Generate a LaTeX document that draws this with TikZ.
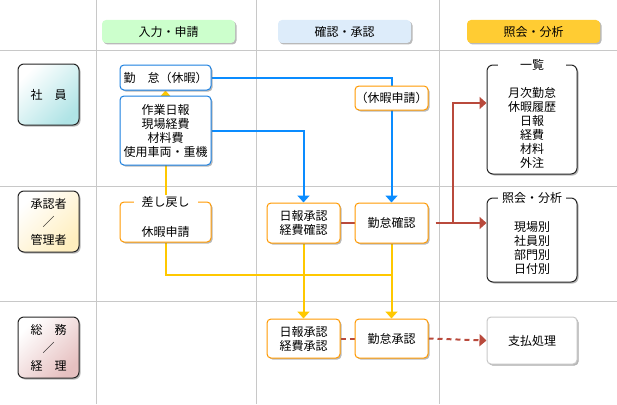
\documentclass[tikz,border=0pt]{standalone}
\usepackage{fontspec}
\setmainfont{Noto Sans CJK JP}
\usetikzlibrary{arrows.meta}
\usetikzlibrary{shadows}
\usetikzlibrary{backgrounds}

\definecolor{gridgray}{RGB}{200,200,200}
\definecolor{hdrgreen}{RGB}{204,255,204}
\definecolor{hdrblue}{RGB}{221,236,250}
\definecolor{hdrgold}{RGB}{255,204,51}
\definecolor{staffcyan}{RGB}{176,228,230}
\definecolor{mgryellow}{RGB}{255,238,190}
\definecolor{acctpink}{RGB}{230,192,192}
\definecolor{inblue}{RGB}{26,127,224}
\definecolor{okorange}{RGB}{255,153,0}
\definecolor{flowblue}{RGB}{10,140,255}
\definecolor{flowyellow}{RGB}{255,200,0}
\definecolor{flowred}{RGB}{185,74,60}

\tikzset{
  txt/.style={font=\fontsize{12}{14}\selectfont},
  box/.style={txt, draw, line width=1pt, rounded corners=4pt, fill=white, align=center, inner sep=0pt,
    drop shadow={shadow xshift=1.5pt, shadow yshift=-1.5pt, fill=black!55}},
  hdr/.style={box, draw=none, minimum width=133pt, minimum height=23pt},
  role/.style={box, draw=black!85, rounded corners=6pt, minimum width=61pt, minimum height=61pt,
    font=\fontsize{12}{18}\selectfont, top color=white, bottom color=#1, shading angle=45},
  inbox/.style={box, draw=inblue, minimum width=91pt},
  okbox/.style={box, draw=okorange, minimum width=73pt, minimum height=40pt},
  viewbox/.style={box, draw=black!85, rounded corners=6pt, minimum width=90pt},
  boxtitle/.style={txt, fill=white, inner sep=1pt, minimum width=68pt},
  boxtext/.style={txt, align=center, inner sep=0pt},
  tip/.style={-{Triangle[width=12pt,length=7pt]}},
  bline/.style={draw=flowblue, line width=2pt},
  yline/.style={draw=flowyellow, line width=2pt},
  rline/.style={draw=flowred, line width=2pt}
}

\begin{document}
\begin{tikzpicture}[x=1pt, y=-1pt]
  \useasboundingbox (0,0) rectangle (617,404);

  \node [hdr, fill=hdrgreen] (hIn) at (168.5, 31.5) {入力・申請};
  \node [hdr, fill=hdrblue] (hChk) at (344.5, 31.5) {確認・承認};
  \node [hdr, fill=hdrgold] (hView) at (533.5, 31.5) {照会・分析};

  \node [role=staffcyan] (staff) at (48.5, 94.5) {社　員};
  \node [role=mgryellow] (mgr) at (48.5, 221.5) {承認者\\／\\管理者};
  \node [role=acctpink] (acct) at (48.5, 347.5) {総　務\\／\\経　理};

  \node [inbox, minimum height=25pt] (kintai) at (165.5, 77.5) {勤　怠（休暇）};
  \node [inbox, minimum height=69pt] (nippo) at (165.5, 130.5) {作業日報\\現場経費\\材料費\\使用車両・重機};
  \node [okbox, minimum width=91pt] (sashi) at (165.5, 222) {};
  \node [boxtitle, minimum width=64pt] (sashiT) at (sashi.north) {差し戻し};
  \node [boxtext] (sashiTxt) at (165.5, 232) {休暇申請};

  \node [okbox, minimum height=24pt] (kyuka) at (391.5, 98) {（休暇申請）};
  \node [okbox] (nippoChk) at (303.5, 223) {日報承認\\経費確認};
  \node [okbox] (kintaiChk) at (391.5, 223) {勤怠確認};
  \node [okbox, minimum height=39pt] (nippoApp) at (303.5, 338.5) {日報承認\\経費承認};
  \node [okbox, minimum height=39pt] (kintaiApp) at (391.5, 338.5) {勤怠承認};

  \node [viewbox, minimum height=109pt] (list) at (532, 119.5) {};
  \node [boxtitle] (listT) at (list.north) {一覧};
  \node [boxtext] (listTxt) at (532, 128) {月次勤怠\\休暇履歴\\日報\\経費\\材料\\外注};
  \node [viewbox, minimum height=84pt] (query) at (532, 240) {};
  \node [boxtitle] (queryT) at (query.north) {照会・分析};
  \node [boxtext] (queryTxt) at (532, 248) {現場別\\社員別\\部門別\\日付別};
  \node [box, draw=gridgray, minimum width=90pt, minimum height=47pt,
    drop shadow={shadow xshift=1.5pt, shadow yshift=-1.5pt, fill=black!30}] (pay) at (532, 340.5) {支払処理};

  \coordinate (ret) at (391.5, 275);
  \coordinate (fork) at (453, 0);

  \begin{pgfonlayer}{background}
    \foreach \x in {96, 256, 439}
      \draw [gridgray] (\x, 0) -- (\x, 404);
    \foreach \y in {50, 186, 301}
      \draw [gridgray] (0, \y) -- (617, \y);

    \draw [bline, tip] (kintai.east) -| (kintaiChk.north);
    \draw [bline, tip] (nippo.east) -| (nippoChk.north);

    \draw [yline, tip] (sashi.north) -- (kintai.south);
    \draw [yline] (sashi.south) |- (ret);
    \draw [yline, tip] (nippoChk.south) -- (nippoApp.north);
    \draw [yline, tip] (kintaiChk.south) -- (kintaiApp.north);

    \draw [rline] (nippoChk.east) -- (kintaiChk.west);
    \draw [rline, tip] ([xshift=7pt]kintaiChk.east) -- (kintaiChk.east -| query.west);
    \draw [rline, tip] (fork |- kintaiChk.east) |- ([yshift=16.5pt]list.west);
    \draw [rline, dash pattern=on 5pt off 4pt] (nippoApp.east) -- (kintaiApp.west);
    \draw [rline, dash pattern=on 5pt off 4pt, tip] (kintaiApp.east) -- (pay.west);
  \end{pgfonlayer}
\end{tikzpicture}
\end{document}
